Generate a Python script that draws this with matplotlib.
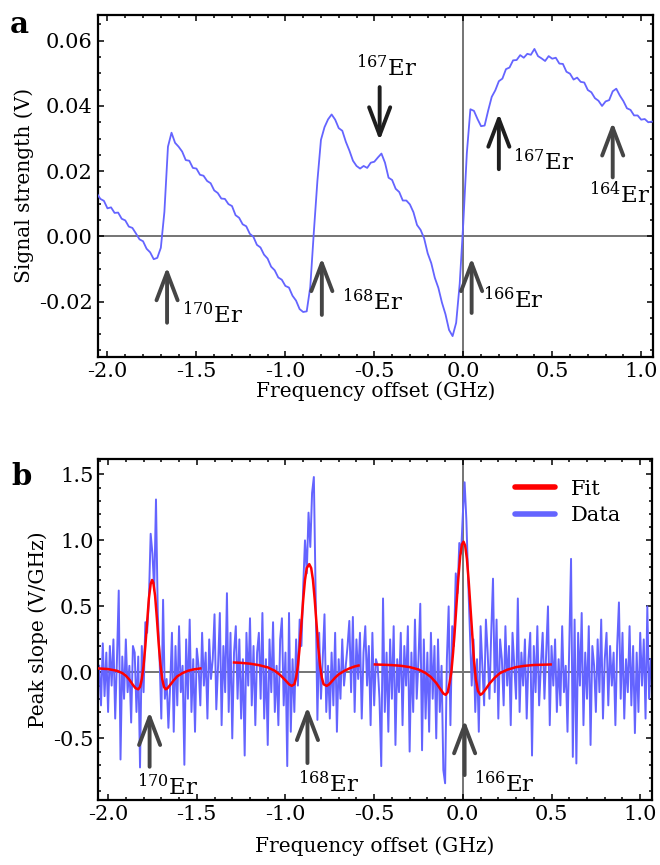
import numpy as np
import matplotlib
matplotlib.use('Agg')
import matplotlib.pyplot as plt
from matplotlib.ticker import MultipleLocator, FormatStrFormatter
from matplotlib.lines import Line2D

plt.rcParams['font.family'] = 'DejaVu Serif'
plt.rcParams['mathtext.fontset'] = 'dejavuserif'
plt.rcParams['axes.unicode_minus'] = False

# ---- panel a: signal trace (mV), one value every 0.02 GHz starting at -2.06 GHz
start_a = -2.06
step_a = 0.02
signal_mv = [
    13.2, 11.5, 10.9, 8.6, 8.9, 7.2, 7.3, 5.4, 4.9, 3.0,          # -2.06
    2.6, 0.9, -0.9, -1.5, -3.8, -4.9, -7.0, -6.6, -3.5, 7.5,      # -1.86
    27.5, 31.8, 28.7, 27.5, 26.0, 23.4, 23.2, 21.0, 20.8, 18.9,   # -1.66
    18.6, 17.0, 16.3, 14.1, 13.3, 11.6, 11.5, 9.9, 9.3, 6.5,      # -1.46
    5.7, 3.7, 3.1, 0.8, -0.1, -2.6, -3.4, -5.6, -6.8, -9.3,       # -1.26
    -10.4, -12.6, -13.3, -15.2, -15.7, -18.2, -19.7, -22.3, -23.2, -23.0,  # -1.06
    -15.5, 1.3, 17.0, 29.6, 33.5, 35.9, 37.4, 35.8, 33.2, 32.4,   # -0.86
    29.0, 26.3, 23.2, 21.6, 20.8, 21.6, 21.0, 22.6, 22.9, 24.2,   # -0.66
    25.4, 22.6, 18.0, 17.3, 14.6, 13.6, 11.0, 11.0, 9.8, 7.4,     # -0.46
    3.5, 2.0, -0.6, -5.2, -8.2, -12.7, -15.8, -20.3, -23.9, -28.7,  # -0.26
    -30.6, -26.5, -14.5, 4.0, 25.5, 39.0, 38.5, 36.0, 33.8, 34.0,  # -0.06
    38.6, 42.8, 44.8, 47.6, 48.4, 51.3, 51.8, 54.0, 54.1, 55.6,   # 0.14
    54.8, 56.0, 55.7, 57.5, 55.3, 54.6, 53.8, 55.3, 54.5, 54.8,   # 0.34
    53.0, 52.9, 50.5, 49.9, 48.1, 48.7, 47.4, 47.2, 44.9, 44.2,   # 0.54
    42.4, 41.6, 40.0, 41.4, 41.8, 44.5, 45.3, 43.2, 41.5, 39.3,   # 0.74
    38.8, 37.1, 37.1, 35.8, 36.0, 35.0, 35.2,                     # 0.94
]

# ---- panel b: peak slope data (V/GHz), one value every 0.01 GHz starting at -2.05 GHz
start_b = -2.05
step_b = 0.01
slope_data = [
    0.05, -0.25, 0.22, -0.18, 0.15, -0.30, 0.20, -0.10, 0.25, -0.35,
    0.10, 0.62, -0.66, 0.12, -0.20, 0.25, -0.15, 0.05, -0.38, 0.20,
    0.15, -0.30, 0.12, -0.72, 0.20, -0.15, 0.38, 0.30, 0.55, 1.05,
    0.90, 0.62, 1.31, 0.45, 0.12, -0.35, 0.55, -0.20, -0.05, -0.42,
    -0.10, 0.30, -0.45, 0.20, -0.25, 0.35, -0.15, 0.05, -0.70, 0.25,
    -0.20, 0.40, -0.30, 0.10, -0.45, 0.18, 0.05, -0.25, 0.30, -0.10,
    0.15, -0.35, 0.25, -0.05, 0.10, 0.44, -0.28, 0.05, 0.45, -0.40,
    0.20, -0.15, 0.60, -0.30, 0.30, -0.50, 0.15, 0.35, -0.20, 0.25,
    -0.35, 0.10, -0.63, 0.30, -0.10, 0.41, -0.25, 0.20, -0.40, 0.15,
    0.30, -0.20, 0.45, -0.35, 0.10, -0.55, 0.25, -0.15, 0.38, -0.30,
    0.05, -0.40, 0.25, 0.41, -0.25, 0.15, -0.71, 0.45, -0.45, 0.10,
    -0.30, 0.25, -0.10, 0.40, 0.20, 0.65, 1.00, 0.75, 1.21, 0.95,
    1.36, 1.48, 0.60, -0.36, 0.30, -0.20, 0.10, 0.44, -0.30, 0.05,
    -0.35, 0.15, -0.25, 0.30, -0.45, 0.10, -0.20, 0.25, -0.10, 0.05,
    0.20, 0.39, -0.15, 0.42, -0.30, 0.25, -0.05, 0.30, -0.35, 0.15,
    0.35, -0.10, 0.20, -0.40, 0.30, -0.25, 0.10, 0.05, -0.20, -0.71,
    0.56, -0.30, 0.15, -0.45, 0.25, -0.20, 0.35, -0.55, 0.10, -0.15,
    0.30, -0.40, 0.20, -0.10, 0.35, -0.60, 0.15, -0.30, 0.40, -0.20,
    0.10, 0.52, -0.59, 0.25, -0.35, 0.15, -0.45, 0.30, -0.20, 0.20,
    -0.50, 0.25, -0.30, 0.05, -0.74, -0.84, 0.10, 0.50, -0.40, 0.35,
    0.20, 0.75, 0.60, 0.98, 0.90, 1.20, 1.44, 1.15, 0.70, 0.30,
    -0.10, 0.25, -0.30, 0.10, -0.45, 0.35, 0.05, -0.25, 0.40, 0.15,
    -0.20, 0.30, 0.71, -0.15, 0.40, -0.35, 0.25, 0.10, -0.25, 0.35,
    -0.10, 0.20, -0.40, 0.30, 0.05, -0.20, 0.56, -0.30, 0.15, -0.10,
    0.25, -0.35, 0.10, 0.30, -0.63, 0.20, -0.15, 0.35, -0.25, 0.05,
    0.30, -0.20, 0.15, 0.50, -0.40, 0.20, -0.10, 0.25, -0.30, 0.10,
    -0.25, 0.35, -0.15, 0.05, -0.45, 0.20, 0.86, -0.64, 0.40, -0.69,
    0.30, -0.10, 0.45, -0.40, 0.15, -0.20, 0.35, -0.55, 0.20, 0.05,
    -0.30, 0.25, -0.15, 0.40, -0.35, 0.10, 0.30, -0.25, 0.20, -0.10,
    0.15, -0.40, 0.20, 0.53, -0.20, 0.30, -0.35, 0.10, -0.15, 0.35,
    -0.25, 0.20, -0.46, 0.15, -0.30, 0.30, -0.10, 0.25, -0.35, 0.50,
    -0.20, 0.10,
]

# ---- fitted curves, three pieces
fit1_x = [-2.055, -2.00, -1.95, -1.92, -1.90, -1.88, -1.86, -1.845, -1.83, -1.82,
          -1.81, -1.80, -1.79, -1.78, -1.77, -1.76, -1.752, -1.745, -1.735, -1.725,
          -1.715, -1.705, -1.695, -1.685, -1.675, -1.665, -1.65, -1.63, -1.61, -1.58,
          -1.55, -1.52, -1.48]
fit1_y = [0.030, 0.025, 0.012, -0.005, -0.025, -0.055, -0.095, -0.120, -0.128, -0.110,
          -0.050, 0.050, 0.200, 0.380, 0.560, 0.670, 0.700, 0.680, 0.580, 0.410,
          0.220, 0.060, -0.050, -0.110, -0.128, -0.120, -0.095, -0.060, -0.030, -0.005,
          0.012, 0.022, 0.030]

fit2_x = [-1.29, -1.25, -1.20, -1.15, -1.10, -1.06, -1.03, -1.00, -0.98, -0.965,
          -0.95, -0.94, -0.93, -0.92, -0.91, -0.90, -0.89, -0.88, -0.866, -0.855,
          -0.845, -0.835, -0.825, -0.815, -0.805, -0.795, -0.785, -0.768, -0.755, -0.74,
          -0.72, -0.70, -0.67, -0.64, -0.61, -0.588]
fit2_y = [0.075, 0.072, 0.066, 0.055, 0.038, 0.012, -0.020, -0.060, -0.090, -0.102,
          -0.090, -0.040, 0.050, 0.190, 0.370, 0.550, 0.700, 0.790, 0.820, 0.790,
          0.700, 0.550, 0.370, 0.190, 0.050, -0.040, -0.090, -0.102, -0.092, -0.070,
          -0.040, -0.015, 0.010, 0.030, 0.045, 0.052]

fit3_x = [-0.496, -0.45, -0.40, -0.35, -0.30, -0.25, -0.21, -0.18, -0.15, -0.13,
          -0.11, -0.097, -0.085, -0.075, -0.065, -0.055, -0.045, -0.035, -0.025, -0.015,
          -0.005, 0.004, 0.013, 0.023, 0.033, 0.043, 0.053, 0.063, 0.073, 0.085,
          0.099, 0.11, 0.13, 0.15, 0.18, 0.21, 0.25, 0.30, 0.35, 0.40,
          0.45, 0.495]
fit3_y = [0.060, 0.058, 0.055, 0.050, 0.040, 0.022, -0.005, -0.035, -0.080, -0.120,
          -0.160, -0.170, -0.150, -0.080, 0.000, 0.150, 0.330, 0.530, 0.720, 0.880,
          0.970, 0.990, 0.960, 0.860, 0.690, 0.490, 0.290, 0.090, -0.050, -0.140,
          -0.170, -0.160, -0.125, -0.085, -0.040, -0.005, 0.020, 0.040, 0.050, 0.056,
          0.058, 0.060]

# isotope arrows: (label, x, y_tail, y_head, text_x, text_y, text_ha, colour)
arrows_a = [
    ('170', -1.665, -0.0265, -0.0094, -1.580, -0.0265, 'left', '#454545'),
    ('168', -0.795, -0.0241, -0.0066, -0.683, -0.0225, 'left', '#454545'),
    ('167', -0.470, 0.0458, 0.0294, -0.430, 0.0493, 'center', '#1e1e1e'),
    ('166', 0.047, -0.0235, -0.0066, 0.109, -0.0219, 'left', '#454545'),
    ('167', 0.200, 0.0206, 0.0377, 0.279, 0.0203, 'left', '#1e1e1e'),
    ('164', 0.840, 0.0181, 0.0350, 0.706, 0.0102, 'left', '#454545'),
]
arrows_b = [
    ('170', -1.766, -0.715, -0.298, -1.837, -0.93, 'left', '#454545'),
    ('168', -0.876, -0.687, -0.261, -0.932, -0.905, 'left', '#454545'),
    ('166', 0.010, -0.778, -0.361, 0.065, -0.905, 'left', '#454545'),
]

blue = '#6464ff'
grey = '#747474'
xlim = (-2.055, 1.065)

fig = plt.figure(figsize=(6.6, 8.65), dpi=100)
ax1 = fig.add_axes([0.148, 0.5873, 0.841, 0.3957])
ax2 = fig.add_axes([0.149, 0.0751, 0.8385, 0.3942])


def style_axes(ax, pad):
    for s in ax.spines.values():
        s.set_linewidth(1.6)
    ax.tick_params(which='both', direction='in', top=True, right=True,
                   width=1.1, labelsize=15)
    ax.tick_params(which='major', length=4)
    ax.tick_params(which='minor', length=2.3)
    ax.xaxis.set_major_locator(MultipleLocator(0.5))
    ax.xaxis.set_minor_locator(MultipleLocator(0.1))
    ax.xaxis.set_major_formatter(FormatStrFormatter('%.1f'))
    ax.set_xlim(*xlim)
    ax.axhline(0, color=grey, lw=1.4, zorder=1)
    ax.axvline(0, color=grey, lw=1.4, zorder=1)
    ax.set_xlabel('Frequency offset (GHz)', fontsize=14.5, labelpad=pad)


def draw_arrows(ax, arrows):
    for lab, x, yt, yh, tx, ty, ha, col in arrows:
        ax.annotate('', xy=(x, yh), xytext=(x, yt),
                    arrowprops=dict(arrowstyle='->,head_length=1.0,head_width=0.38',
                                    lw=2.8, color=col, mutation_scale=20,
                                    shrinkA=0, shrinkB=0), zorder=4)
        ax.text(tx, ty, r'$^{%s}$Er' % lab, fontsize=16.5, ha=ha, va='baseline',
                color='black', zorder=5)


# panel a
x_a = start_a + step_a * np.arange(len(signal_mv))
ax1.plot(x_a, np.array(signal_mv) * 1e-3, color=blue, lw=1.3, zorder=3)
style_axes(ax1, 0)
ax1.set_ylim(-0.037, 0.068)
ax1.yaxis.set_major_locator(MultipleLocator(0.02))
ax1.yaxis.set_minor_locator(MultipleLocator(0.005))
ax1.yaxis.set_major_formatter(FormatStrFormatter('%.2f'))
ax1.set_ylabel('Signal strength (V)', fontsize=14.5, labelpad=4)
draw_arrows(ax1, arrows_a)

# panel b
x_b = start_b + step_b * np.arange(len(slope_data))
ax2.plot(x_b, slope_data, color=blue, lw=1.4, zorder=2)
for fx, fy in [(fit1_x, fit1_y), (fit2_x, fit2_y), (fit3_x, fit3_y)]:
    ax2.plot(fx, fy, color='#ff0000', lw=1.8, zorder=3)
style_axes(ax2, 9)
ax2.set_ylim(-0.967, 1.616)
ax2.yaxis.set_major_locator(MultipleLocator(0.5))
ax2.yaxis.set_minor_locator(MultipleLocator(0.1))
ax2.yaxis.set_major_formatter(FormatStrFormatter('%.1f'))
ax2.set_ylabel('Peak slope (V/GHz)', fontsize=14.5, labelpad=4)
draw_arrows(ax2, arrows_b)

handles = [Line2D([], [], color='#ff0000', lw=4, solid_capstyle='round'),
           Line2D([], [], color=blue, lw=4, solid_capstyle='round')]
ax2.legend(handles, ['Fit', 'Data'], loc='upper left', bbox_to_anchor=(0.753, 0.94),
           frameon=False, fontsize=15, borderpad=0, borderaxespad=0,
           handlelength=1.9, handletextpad=0.8, labelspacing=0.35)

fig.text(10 / 660, 1 - 33 / 865, 'a', fontsize=21, fontweight='bold', va='baseline')
fig.text(11 / 660, 1 - 485 / 865, 'b', fontsize=21, fontweight='bold', va='baseline')

fig.savefig('out.png', dpi=100)
